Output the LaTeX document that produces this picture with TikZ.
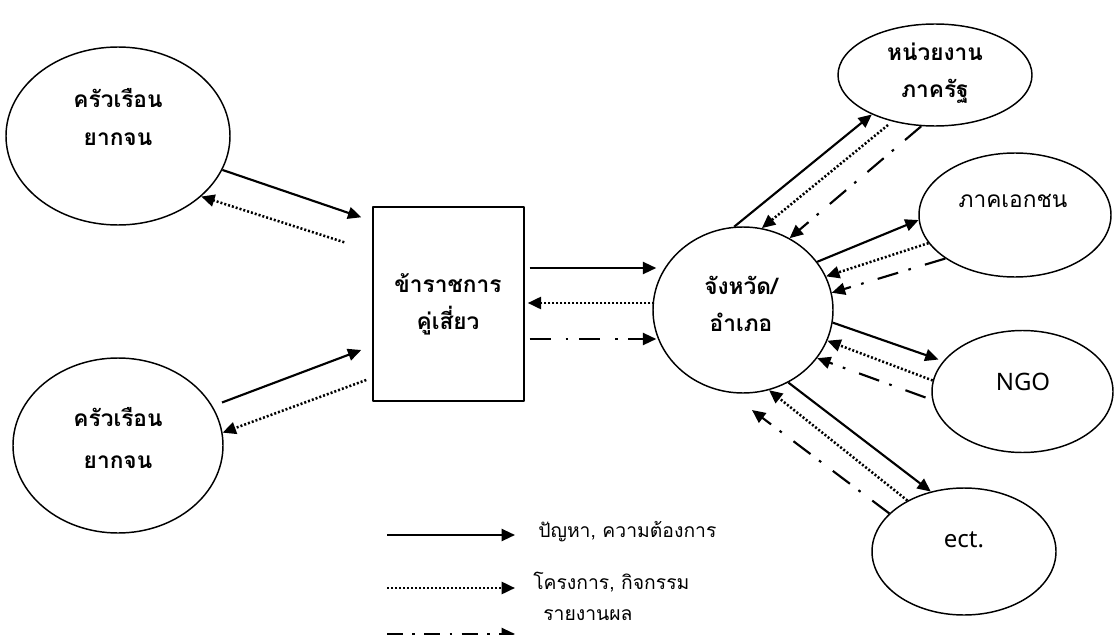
\documentclass[tikz,border=0pt]{standalone}
\usepackage{fontspec}
\setmainfont{Noto Sans}
\newfontfamily\thai[Script=Thai]{Loma}
\usetikzlibrary{arrows.meta,shapes.geometric}

\tikzset{
  unit/.style={draw,ellipse,line width=1.1pt,inner sep=0pt},
  wh/.style 2 args={minimum width=#1*0.75pt,minimum height=#2*0.75pt},
  word/.style={align=center,inner sep=0pt,font=\thai\bfseries\fontsize{17}{28}\selectfont},
  key/.style={anchor=west,inner sep=0pt,font=\thai\fontsize{14.5}{16}\selectfont},
  need/.style={-{Triangle[length=10pt,width=9pt]},line width=1.6pt},
  plan/.style={need,line width=1.9pt,dash pattern=on 1.5pt off 1.5pt},
  report/.style={need,dash pattern=on 16pt off 11pt on 2pt off 8pt},
}

\begin{document}
\begin{tikzpicture}[x=0.75pt,y=-0.75pt,line join=round]
\useasboundingbox (0,0) rectangle (1114,635);
% shapes
\node[unit,wh={224}{178}] (hh1) at (118,136) {};
\node[unit,wh={210}{175}] (hh2) at (118,445.5) {};
\node[draw,line width=1.1pt,wh={151}{194}] (box) at (448.5,304) {};
\node[unit,wh={180}{166}] (prov) at (743,310) {};
\node[unit,wh={194}{102}] (gov) at (935,75) {};
\node[unit,wh={192}{124}] (pri) at (1015,215) {};
\node[unit,wh={181}{122}] (ngo) at (1022.5,391.5) {};
\node[unit,wh={184}{127}] (etc) at (964,551.5) {};
% labels
\node[word] (t1) at (118,117) {ครัวเรือน\\ยากจน};
\node[word,font=\thai\bfseries\fontsize{17}{31}\selectfont] (t2) at (118,438) {ครัวเรือน\\ยากจน};
\node[word] (t3) at (448,304) {ข้าราชการ\\คู่เสี่ยว};
\node[word] (t4) at (741,304) {จังหวัด/\\อำเภอ};
\node[word] (t5) at (935,73) {หน่วยงาน\\ภาครัฐ};
\node[word,font=\thai\fontsize{17}{28}\selectfont] (t6) at (1013,201) {ภาคเอกชน};
\node[word,font=\fontsize{18}{20}\selectfont] (t7) at (1023,382) {NGO};
\node[word,font=\bfseries\fontsize{18}{20}\selectfont] (t8) at (964,540) {ect.};
% left side
\draw[need] (hh1.-18) -- ([shift={(-11,11)}]box.north west);
\draw[plan] ([shift={(-28,36)}]box.north west) -- (hh1.-36);
\draw[need] ([shift={(104,-43)}]hh2.center) -- ([shift={(-11,46)}]box.west);
\draw[plan] ([shift={(-6,76)}]box.west) -- (hh2.7);
% box and province
\draw[need] ([shift={(5,-36)}]box.east) -- ([shift={(4,-42)}]prov.west);
\draw[plan] ([shift={(2,-7)}]prov.west) -- ([shift={(3,-1)}]box.east);
\draw[report] ([shift={(5,35)}]box.east) -- ([shift={(4,29)}]prov.west);
% right side
\draw[need] (prov.96) -- (gov.212);
\draw[plan] ([shift={(-47,50)}]gov.center) -- (prov.77);
\draw[report] (gov.255) -- (prov.57);
\draw[need] (prov.33) -- (pri.183);
\draw[plan] (pri.198) -- (prov.22);
\draw[report] (pri.212) -- (prov.11);
\draw[need] (prov.-8) -- ([shift={(-84,-32)}]ngo.center);
\draw[plan] (ngo.173) -- (prov.-20);
\draw[report] ([shift={(-97,6)}]ngo.center) -- (prov.-33);
\draw[need] (prov.-58) -- (etc.119);
\draw[plan] (etc.138) -- (prov.-72);
\draw[report] (etc.153) -- ([shift={(9,100)}]prov.center);
% legend
\coordinate (k1) at (387,535);
\coordinate (k2) at (387,588);
\coordinate (k3) at (387,634);
\draw[need] (k1) -- +(128,0);
\draw[plan] (k2) -- +(128,0);
\draw[report,dash pattern=on 12pt off 7pt on 2pt off 7pt] (k3) -- +(128,0);
\node[key] (n1) at (538,532) {ปัญหา, ความต้องการ};
\node[key] (n2) at (533,582) {โครงการ, กิจกรรม};
\node[key] (n3) at (543,615) {รายงานผล};
\end{tikzpicture}
\end{document}
